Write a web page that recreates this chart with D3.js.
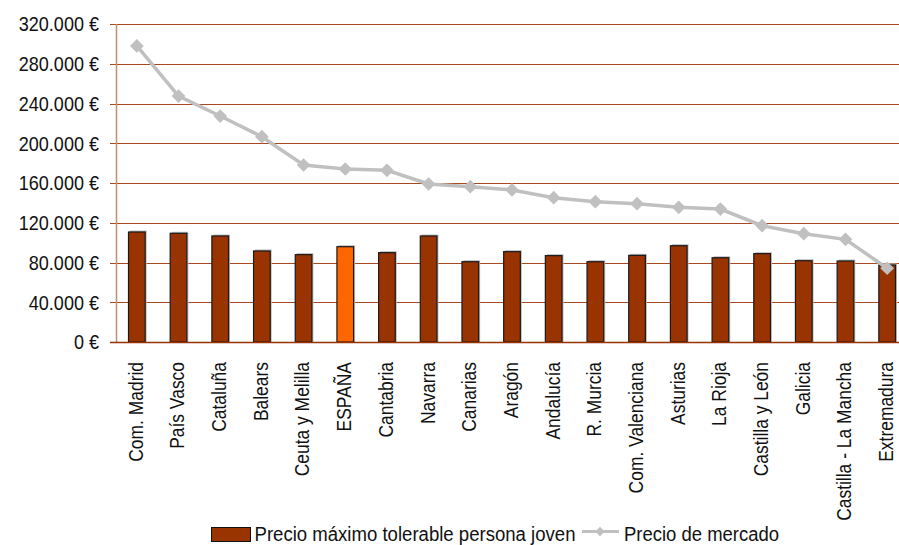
<!DOCTYPE html>
<html>
<head>
<meta charset="utf-8">
<script src="https://cdn.jsdelivr.net/npm/d3@7"></script>
<style>
  body { margin: 0; background: #fff; }
  svg { display: block; font-family: "Liberation Sans", Arial, sans-serif; }
</style>
</head>
<body>
<div id="chart"></div>
<script>
// data
const regions = ["Com. Madrid", "País Vasco", "Cataluña", "Balears", "Ceuta y Melilla", "ESPAÑA",
  "Cantabria", "Navarra", "Canarias", "Aragón", "Andalucía", "R. Murcia", "Com. Valenciana",
  "Asturias", "La Rioja", "Castilla y León", "Galicia", "Castilla - La Mancha", "Extremadura"];
const precioMaximo = [110700, 109400, 106700, 91600, 87900, 95900, 89900, 106700, 80800, 90900,
  86900, 80800, 87200, 96900, 84800, 88900, 81800, 81500, 77500];
const precioMercado = [297900, 247500, 227400, 206600, 178100, 174100, 172800, 159000, 156300, 153000,
  145200, 141200, 139200, 135500, 133800, 117000, 109000, 103300, 74200];
const yTicks = [0, 40000, 80000, 120000, 160000, 200000, 240000, 280000, 320000];
const legendLabels = ["Precio máximo tolerable persona joven", "Precio de mercado"];

const W = 899, H = 545;
const margin = { top: 24, left: 116, bottom: 203 };
const plotW = 792; // runs past the right edge, like the reference
const plotH = H - margin.top - margin.bottom;

const svg = d3.select("#chart").append("svg").attr("width", W).attr("height", H);
const g = svg.append("g").attr("transform", `translate(${margin.left},${margin.top})`);

const x = d3.scaleBand().domain(regions).range([0, plotW]).paddingInner(0.6).paddingOuter(0.3);
const y = d3.scaleLinear().domain([0, 320000]).range([plotH, 0]);

const fmt = (v) => d3.format(",")(v).replace(/,/g, ".") + " €";

// squeeze text to look like a narrow face
function narrow(sel, k) {
  sel.each(function () {
    const len = this.getComputedTextLength();
    d3.select(this).attr("textLength", len * k).attr("lengthAdjust", "spacingAndGlyphs");
  });
}

// gridlines
g.selectAll(".grid").data(yTicks).join("line")
  .attr("x1", -6).attr("x2", plotW)
  .attr("y1", (d) => Math.round(y(d)) + 0.5).attr("y2", (d) => Math.round(y(d)) + 0.5)
  .attr("stroke", "#a8481e").attr("stroke-width", 1);

// y axis labels
const yAxis = g.append("g").call(d3.axisLeft(y).tickValues(yTicks).tickFormat(fmt).tickSize(0).tickPadding(17));
yAxis.select(".domain").remove();
yAxis.selectAll("text").attr("font-size", 20.5).attr("fill", "#111")
  .attr("font-family", "Liberation Sans, Arial, sans-serif").attr("dy", "0.34em");
narrow(yAxis.selectAll("text"), 0.88);

// y axis line
g.append("line").attr("x1", 0.5).attr("x2", 0.5).attr("y1", 0).attr("y2", plotH)
  .attr("stroke", "#c58a6c").attr("stroke-width", 1.5);

// bars: shadow then bar
g.selectAll(".shadow").data(regions).join("rect")
  .attr("x", (d) => x(d) + 1.5)
  .attr("y", (d, i) => y(precioMaximo[i]) - 1.5)
  .attr("width", x.bandwidth())
  .attr("height", (d, i) => plotH - y(precioMaximo[i]) + 1.5)
  .attr("fill", "#bdbdbd");

g.selectAll(".bar").data(regions).join("rect")
  .attr("class", "bar")
  .attr("x", (d) => x(d))
  .attr("y", (d, i) => y(precioMaximo[i]))
  .attr("width", x.bandwidth())
  .attr("height", (d, i) => plotH - y(precioMaximo[i]))
  .attr("fill", (d) => d === "ESPAÑA" ? "#ff6600" : "#993300")
  .attr("stroke", "#1a1a1a").attr("stroke-width", 1.2);

// baseline
g.append("line").attr("x1", -6).attr("x2", plotW).attr("y1", plotH + 0.5).attr("y2", plotH + 0.5)
  .attr("stroke", "#993300").attr("stroke-width", 1.5);

// market price line
const cx = (d) => x(d) + x.bandwidth() / 2;
const line = d3.line().x((d) => cx(d)).y((d, i) => y(precioMercado[i]));
g.append("path").datum(regions).attr("d", line)
  .attr("fill", "none").attr("stroke", "#c0c0c0").attr("stroke-width", 3.5);
const diamond = d3.symbol().type(d3.symbolDiamond2).size(120);
g.selectAll(".pt").data(regions).join("path")
  .attr("d", diamond)
  .attr("transform", (d, i) => `translate(${cx(d)},${y(precioMercado[i])})`)
  .attr("fill", "#c0c0c0");

// category labels
const cats = g.selectAll(".cat").data(regions).join("text")
  .attr("transform", (d) => `translate(${cx(d) - 1.5},${plotH + 20}) rotate(-90)`)
  .attr("text-anchor", "end").attr("dy", "0.36em")
  .attr("font-size", 20.5).attr("fill", "#111")
  .text((d) => d);
narrow(cats, 0.85);

// legend
const lg = svg.append("g");
lg.append("rect").attr("x", 211.5).attr("y", 527.5).attr("width", 39).attr("height", 14)
  .attr("fill", "#993300").attr("stroke", "#111").attr("stroke-width", 1);
lg.append("text").attr("x", 254.5).attr("y", 541)
  .attr("font-size", 19.5).attr("fill", "#111").text(legendLabels[0])
  .attr("textLength", 321).attr("lengthAdjust", "spacingAndGlyphs");
lg.append("line").attr("x1", 582).attr("x2", 619).attr("y1", 531.5).attr("y2", 531.5)
  .attr("stroke", "#c0c0c0").attr("stroke-width", 3);
lg.append("path").attr("d", d3.symbol().type(d3.symbolDiamond2).size(60))
  .attr("transform", "translate(600,531.5)").attr("fill", "#c0c0c0");
lg.append("text").attr("x", 624).attr("y", 541)
  .attr("font-size", 19.5).attr("fill", "#111").text(legendLabels[1])
  .attr("textLength", 155).attr("lengthAdjust", "spacingAndGlyphs");
</script>
</body>
</html>
